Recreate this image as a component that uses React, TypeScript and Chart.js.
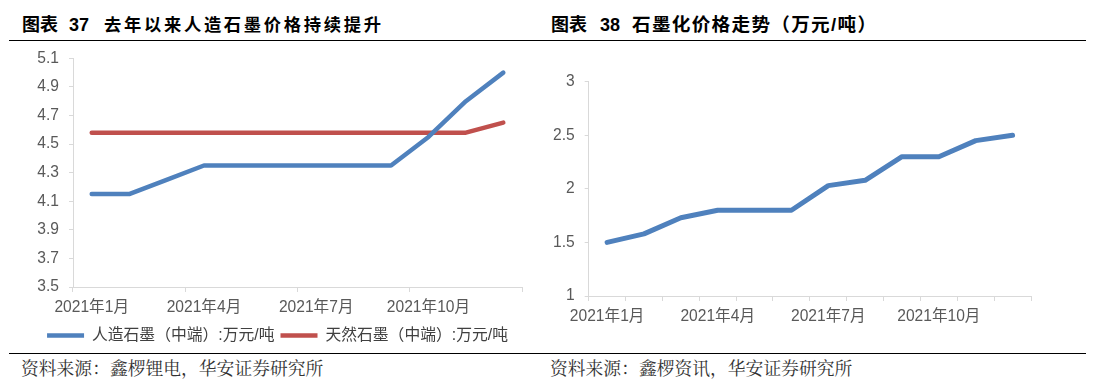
import React, { useEffect, useRef } from "react";
import { Chart, registerables } from "chart.js";

Chart.register(...registerables);

// ---------- data ----------
const months = [
  "2021年1月", "2021年2月", "2021年3月", "2021年4月", "2021年5月", "2021年6月",
  "2021年7月", "2021年8月", "2021年9月", "2021年10月", "2021年11月", "2021年12月",
];
const artificialGraphite = [4.15, 4.15, 4.25, 4.35, 4.35, 4.35, 4.35, 4.35, 4.35, 4.55, 4.8, 5.0];
const naturalGraphite = [4.58, 4.58, 4.58, 4.58, 4.58, 4.58, 4.58, 4.58, 4.58, 4.58, 4.58, 4.65];
const graphitizationPrice = [1.5, 1.58, 1.73, 1.8, 1.8, 1.8, 2.03, 2.08, 2.3, 2.3, 2.45, 2.5];

const leftSeriesNames = ["人造石墨（中端）:万元/吨", "天然石墨（中端）:万元/吨"];
const leftYRange = [3.5, 5.1];
const leftYStep = 0.2;
const rightYRange = [1, 3];
const rightYStep = 0.5;
const labelEvery = 3;

const leftTitle = ["图表", "37", "去年以来人造石墨价格持续提升"];
const rightTitle = ["图表", "38", "石墨化价格走势（万元/吨）"];
const leftSource = "资料来源：鑫椤锂电，华安证券研究所";
const rightSource = "资料来源：鑫椤资讯，华安证券研究所";

// ---------- styles ----------
const BLUE = "#4F81BD";
const RED = "#C0504D";
const AXIS = "#D9D9D9";
const TICK_TEXT = "#595959";
const FONT = "'Liberation Sans', Arial, 'Noto Sans CJK SC', sans-serif";

Chart.defaults.font.family = FONT;

function fmtNum(v: number) {
  const r = Math.round(v * 100) / 100;
  return Number.isInteger(r) ? String(r) : r.toFixed(1);
}

function makeXScale(height: number, tickEvery: number) {
  return {
    type: "category",
    offset: true,
    grid: {
      offset: true,
      drawOnChartArea: false,
      drawTicks: true,
      tickLength: 5,
      tickWidth: 1,
      tickColor: (ctx: any) =>
        ctx.index === undefined || ctx.index % tickEvery === 0 ? AXIS : "rgba(0,0,0,0)",
    },
    border: { color: AXIS, width: 1 },
    ticks: {
      autoSkip: false,
      maxRotation: 0,
      minRotation: 0,
      padding: 6,
      color: TICK_TEXT,
      font: { size: 15.6 },
      callback: (_v: any, i: number) => (i % labelEvery === 0 ? months[i] : ""),
    },
    afterFit: (s: any) => {
      s.height = height;
    },
  };
}

function makeYScale(range: number[], step: number, width: number) {
  return {
    type: "linear",
    min: range[0],
    max: range[1],
    grid: {
      drawOnChartArea: false,
      drawTicks: true,
      tickLength: 4,
      tickColor: AXIS,
    },
    border: { color: AXIS, width: 1 },
    ticks: {
      stepSize: step,
      autoSkip: false,
      padding: 10,
      color: TICK_TEXT,
      font: { size: 15.6 },
      callback: (v: any) => fmtNum(Number(v)),
    },
    afterFit: (s: any) => {
      s.width = width;
    },
  };
}

const lineStyle = {
  pointRadius: 0,
  pointHoverRadius: 0,
  tension: 0,
  borderCapStyle: "round",
  borderJoinStyle: "round",
  fill: false,
};

function ChartCanvas(props: { config: any; left: number; top: number; width: number; height: number }) {
  const ref = useRef<HTMLCanvasElement>(null);
  useEffect(() => {
    const chart = new Chart(ref.current as HTMLCanvasElement, props.config);
    return () => chart.destroy();
  }, []);
  return (
    <canvas
      ref={ref}
      width={props.width}
      height={props.height}
      style={{
        position: "absolute",
        left: props.left,
        top: props.top,
        width: props.width,
        height: props.height,
      }}
    />
  );
}

const leftConfig = {
  type: "line",
  data: {
    labels: months,
    datasets: [
      {
        label: leftSeriesNames[0],
        data: artificialGraphite,
        borderColor: BLUE,
        backgroundColor: BLUE,
        borderWidth: 4.5,
        ...lineStyle,
      },
      {
        label: leftSeriesNames[1],
        data: naturalGraphite,
        borderColor: RED,
        backgroundColor: RED,
        borderWidth: 4.5,
        ...lineStyle,
      },
    ],
  },
  options: {
    responsive: false,
    animation: false,
    devicePixelRatio: 1,
    layout: { padding: { left: 0, right: 28, top: 23.3, bottom: 1.5 } },
    plugins: {
      legend: {
        display: true,
        position: "bottom",
        labels: {
          usePointStyle: true,
          pointStyle: "line",
          pointStyleWidth: 37,
          padding: 6,
          color: "#404040",
          font: { size: 15.8 },
        },
      },
      tooltip: { enabled: false },
    },
    scales: {
      x: makeXScale(34.7, 3),
      y: makeYScale(leftYRange, leftYStep, 40),
    },
  },
};

const rightConfig = {
  type: "line",
  data: {
    labels: months,
    datasets: [
      {
        label: "石墨化价格",
        data: graphitizationPrice,
        borderColor: BLUE,
        backgroundColor: BLUE,
        borderWidth: 5,
        ...lineStyle,
      },
    ],
  },
  options: {
    responsive: false,
    animation: false,
    devicePixelRatio: 1,
    layout: { padding: { left: 0, right: 72, top: 36.7, bottom: 19 } },
    plugins: {
      legend: { display: false },
      tooltip: { enabled: false },
    },
    scales: {
      x: makeXScale(40, 1),
      y: makeYScale(rightYRange, rightYStep, 38.7),
    },
  },
};

function Seg(props: { text: string; left: number; width?: number; size: number }) {
  return (
    <span
      style={{
        position: "absolute",
        left: props.left,
        top: 0,
        display: "inline-block",
        width: props.width,
        fontSize: props.size,
        textAlign: props.width ? "justify" : "left",
        textAlignLast: props.width ? "justify" : "auto",
        whiteSpace: "nowrap",
      } as any}
    >
      {props.text}
    </span>
  );
}

function Title(props: {
  parts: string[];
  lefts: number[];
  widths: number[];
  sizes: number[];
}) {
  return (
    <div
      style={{
        position: "absolute",
        left: 0,
        top: 15,
        height: 20,
        lineHeight: "20px",
        fontWeight: 700,
        color: "#000",
        fontFamily: FONT,
      }}
    >
      {props.parts.map((p, i) => (
        <Seg key={i} text={p} left={props.lefts[i]} width={props.widths[i]} size={props.sizes[i]} />
      ))}
    </div>
  );
}

function Source(props: { text: string; left: number }) {
  return (
    <div
      style={{
        position: "absolute",
        left: props.left,
        top: 358,
        height: 20,
        lineHeight: "20px",
        fontSize: 17.8,
        color: "#333",
        whiteSpace: "nowrap",
        fontFamily: "'Noto Serif CJK SC', 'Noto Sans CJK SC', serif",
      }}
    >
      {props.text}
    </div>
  );
}

export default function App() {
  return (
    <div
      style={{
        position: "absolute",
        left: 0,
        top: 0,
        width: 1103,
        height: 384,
        background: "#fff",
        overflow: "hidden",
      }}
    >
      <Title
        parts={leftTitle}
        lefts={[22, 69, 104]}
        widths={[0, 0, 277]}
        sizes={[18, 18, 17.3]}
      />
      <Title
        parts={rightTitle}
        lefts={[551, 600, 632]}
        widths={[0, 0, 244]}
        sizes={[18, 18, 18.6]}
      />
      <div style={{ position: "absolute", left: 9, top: 40, width: 1077, height: 1, background: "#000" }} />
      <ChartCanvas config={leftConfig} left={33} top={35} width={517} height={320} />
      <ChartCanvas config={rightConfig} left={550} top={45} width={553} height={310} />
      <div style={{ position: "absolute", left: 9, top: 353, width: 1077, height: 1, background: "#000" }} />
      <Source text={leftSource} left={21} />
      <Source text={rightSource} left={550} />
    </div>
  );
}
